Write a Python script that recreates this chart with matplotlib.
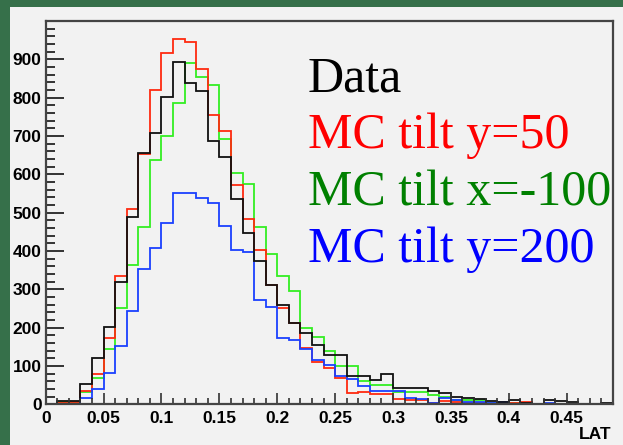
import matplotlib
matplotlib.use("Agg")
import matplotlib.pyplot as plt
import numpy as np
from matplotlib.patches import Rectangle
from matplotlib.ticker import MultipleLocator, FixedLocator

# LAT histograms, 49 bins of width 0.01 from 0 to 0.49
bin_edges = np.round(np.arange(0, 0.4901, 0.01), 2)

data_counts = [2, 8, 8, 53, 122, 202, 318, 488, 655, 709,
               802, 892, 837, 818, 688, 646, 536, 446, 374, 311,
               258, 212, 187, 155, 128, 128, 75, 74, 63, 80,
               43, 43, 43, 34, 29, 20, 16, 13, 9, 7,
               11, 4, 1, 11, 9, 5, 0, 1, 3]
mc_y50 = [1, 3, 6, 34, 79, 172, 336, 509, 653, 820,
          916, 953, 945, 876, 754, 712, 571, 483, 403, 312,
          250, 211, 146, 110, 95, 68, 30, 32, 27, 28,
          13, 11, 10, 4, 8, 5, 3, 3, 1, 2,
          4, 5, 1, 2, 1, 0, 1, 0, 1]
mc_x100 = [1, 5, 3, 31, 68, 145, 252, 363, 463, 637,
           700, 786, 890, 853, 834, 691, 603, 576, 463, 393,
           334, 295, 200, 176, 140, 100, 100, 61, 50, 51,
           32, 33, 33, 24, 20, 11, 12, 11, 4, 4,
           3, 2, 1, 1, 1, 0, 0, 2, 2]
mc_y200 = [1, 1, 2, 16, 39, 82, 152, 243, 352, 409,
           472, 552, 552, 537, 526, 465, 403, 398, 272, 255,
           172, 168, 143, 116, 103, 75, 66, 48, 34, 34,
           34, 16, 14, 4, 16, 11, 7, 7, 4, 6,
           2, 0, 0, 3, 2, 2, 0, 0, 2]

legend_labels = ["Data", "MC tilt y=50", "MC tilt x=-100", "MC tilt y=200"]
legend_colors = ["black", "#ff0000", "#008000", "#0000ff"]

x_ticks = [0, 0.05, 0.1, 0.15, 0.2, 0.25, 0.3, 0.35, 0.4, 0.45]
x_ticklabels = ["0", "0.05", "0.1", "0.15", "0.2", "0.25", "0.3", "0.35", "0.4", "0.45"]
y_ticks = [0, 100, 200, 300, 400, 500, 600, 700, 800, 900]

W, H = 623, 445
fig = plt.figure(figsize=(W / 100, H / 100), dpi=100)
fig.patch.set_facecolor("#36704a")
fig.add_artist(Rectangle((10 / W, 0), 1 - 10 / W, 1 - 7 / H,
                         transform=fig.transFigure, facecolor="#f2f2f2",
                         edgecolor="none", zorder=0))

ax = fig.add_axes([45.7 / W, (H - 404.3) / H, (613 - 45.7) / W, (404.3 - 21) / H])
ax.set_facecolor("#f2f2f2")

ax.stairs(mc_x100, bin_edges, color="#33ee22", linewidth=1.3)
ax.stairs(mc_y50, bin_edges, color="#ff2a10", linewidth=1.3)
ax.stairs(mc_y200, bin_edges, color="#1a40ff", linewidth=1.3)
ax.stairs(data_counts, bin_edges, color="#111111", linewidth=1.3)

ax.set_xlim(0, 0.49)
ax.set_ylim(0, 1000)
ax.xaxis.set_major_locator(FixedLocator(x_ticks))
ax.set_xticklabels(x_ticklabels)
ax.xaxis.set_minor_locator(MultipleLocator(0.01))
ax.set_yticks(y_ticks)
ax.yaxis.set_minor_locator(MultipleLocator(20))

for spine in ax.spines.values():
    spine.set_linewidth(1.6)
    spine.set_color("#444444")

tick_font = dict(family="Liberation Sans", weight="bold", size=12.5)
ax.tick_params(axis="y", which="major", direction="in", length=13, width=1.4,
               color="#333333", pad=3)
ax.tick_params(axis="y", which="minor", direction="in", length=6.5, width=1.4,
               color="#333333")
ax.tick_params(axis="x", which="major", direction="in", length=8, width=1.2,
               color="#333333", pad=4.5)
ax.tick_params(axis="x", which="minor", direction="in", length=4, width=1.2,
               color="#333333")
for lab in ax.get_xticklabels() + ax.get_yticklabels():
    lab.set_fontproperties(tick_font)

# axis title in the ROOT position: right-aligned under the frame
fig.text(612 / W, 3 / H, "LAT", ha="right", va="bottom", **tick_font)

baselines = [91.7, 147.7, 205.7, 262]
for label, color, yb in zip(legend_labels, legend_colors, baselines):
    fig.text(308 / W, 1 - yb / H, label, color=color, fontsize=36,
             family="Liberation Serif", va="baseline", ha="left")

fig.savefig("out.png", dpi=100, facecolor=fig.get_facecolor())
